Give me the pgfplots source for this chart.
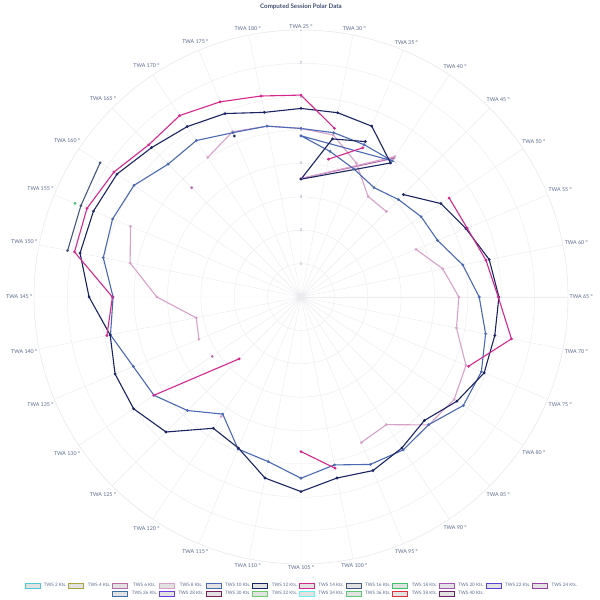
\documentclass[border=0pt]{standalone}
\usepackage{fontspec}
\setmainfont{Lato}
\usepackage{pgfplots}
\pgfplotsset{compat=1.18}
\usepgfplotslibrary{polar}

\definecolor{gridc}{HTML}{ECECF0}
\definecolor{labelc}{HTML}{5A6A8C}
\definecolor{titlec}{HTML}{3D4F73}
\definecolor{legfill}{HTML}{E2E2E2}
\definecolor{tws2}{HTML}{4CC9D6}
\definecolor{tws4}{HTML}{A9A33F}
\definecolor{tws6}{HTML}{B86AAE}
\definecolor{tws8}{HTML}{D9A0CA}
\definecolor{tws10}{HTML}{4A69B4}
\definecolor{tws12}{HTML}{1B2462}
\definecolor{tws14}{HTML}{D4288F}
\definecolor{tws16}{HTML}{46577D}
\definecolor{tws18}{HTML}{3CC46A}
\definecolor{tws20}{HTML}{A453B3}
\definecolor{tws22}{HTML}{5B3FD6}
\definecolor{tws24}{HTML}{9B3FA8}
\definecolor{tws26}{HTML}{3E6EAA}
\definecolor{tws28}{HTML}{6A3BE8}
\definecolor{tws30}{HTML}{7A1F5C}
\definecolor{tws32}{HTML}{6CCB6C}
\definecolor{tws34}{HTML}{6EF0F0}
\definecolor{tws36}{HTML}{5CC878}
\definecolor{tws38}{HTML}{E0303F}
\definecolor{tws40}{HTML}{6E1F6E}

\begin{document}
\begin{tikzpicture}
\begin{polaraxis}[
    scale only axis,
    width=534pt, height=534pt,
    ymin=0, ymax=8,
    ytick={1,2,3,4,5,6,7,8},
    yticklabels={},
    xtick={0,11.25,22.5,33.75,45,56.25,67.5,78.75,90,101.25,112.5,123.75,135,146.25,157.5,168.75,180,191.25,202.5,213.75,225,236.25,247.5,258.75,270,281.25,292.5,303.75,315,326.25,337.5,348.75},
    xticklabels={TWA 65 °,TWA 60 °,TWA 55 °,TWA 50 °,TWA 45 °,TWA 40 °,TWA 35 °,TWA 30 °,TWA 25 °,TWA 180 °,TWA 175 °,TWA 170 °,TWA 165 °,TWA 160 °,TWA 155 °,TWA 150 °,TWA 145 °,TWA 140 °,TWA 135 °,TWA 130 °,TWA 125 °,TWA 120 °,TWA 115 °,TWA 110 °,TWA 105 °,TWA 100 °,TWA 95 °,TWA 90 °,TWA 85 °,TWA 80 °,TWA 75 °,TWA 70 °},
    xticklabel style={font=\fontsize{5.3}{6}\selectfont, text=labelc, inner sep=1.5pt},
    grid=major,
    major grid style={draw=gridc, line width=0.45pt},
    axis line style={draw=gridc, line width=0.45pt},
    tick style={draw=none},
    % TWA category -> angle, TWA 25 at the top, clockwise
    x filter/.expression={mod(506.25-2.25*x,360)},
    every axis plot/.append style={line width=1.1pt, mark=*, mark size=0.75pt},
    legend columns=12,
    legend image code/.code={\draw[#1] (0pt,-2.5pt) rectangle (15pt,2.5pt);},
    legend style={at={(0.5,-0.031)}, anchor=north, draw=none, fill=none,
        font=\fontsize{4.6}{5.5}\selectfont, text=labelc,
        nodes={inner sep=0.5pt},
        row sep=2pt,
        /tikz/every even column/.append style={column sep=1.5pt},
        /tikz/every odd column/.append style={column sep=3pt}},
]
\coordinate (c) at (axis cs:0,0);
\pgfplotsinvokeforeach{1,...,8}{
  \node[font=\fontsize{4}{5}\selectfont, text=labelc!80] at (axis cs:90,#1) {#1};
}

% TWS 6
\addplot[tws6, forget plot] coordinates {(25,3.55) (40,5.00)};
\addplot[tws6, forget plot] coordinates {(130,3.20)};
\addplot[tws6, forget plot] coordinates {(165,4.63)};

% TWS 8
\addplot[tws8, forget plot] coordinates {(170,5.03) (175,5.36) (180,5.22) (25,5.05) (30,4.95) (35,4.34) (40,3.62) (45,3.62)};
\addplot[tws8, forget plot] coordinates {(55,3.73) (60,4.33) (65,4.73) (70,4.75) (75,5.35) (80,5.52) (85,5.42) (90,4.60) (95,4.72)};
\addplot[tws8, forget plot] coordinates {(155,5.53) (150,5.22) (145,4.32) (140,3.20) (135,3.31)};
\addplot[tws8, forget plot] coordinates {(25,3.55) (40,5.06)};
\addplot[tws8, forget plot] coordinates {(120,4.31)};

% TWS 10
\addplot[tws10, forget plot] coordinates {
  (25,4.83) (30,4.45) (35,4.15) (40,3.94) (45,4.13) (50,4.33) (55,4.43) (60,4.94)
  (65,5.34) (70,5.64) (75,5.85) (80,5.85) (85,5.41) (90,5.51) (95,5.43) (100,5.13)
  (105,5.43) (110,5.03) (115,4.93) (120,4.22) (125,4.81) (130,5.30) (135,5.44) (140,5.82)
  (145,5.63) (150,6.04) (155,6.11) (160,6.02) (165,5.63) (170,5.64) (175,5.33) (180,5.22)
  (25,5.05) (30,5.02) (35,4.94) (40,4.91) (25,4.83)};

% TWS 12
\addplot[tws12, forget plot] coordinates {
  (45,4.34) (50,5.04) (55,5.35) (60,5.75) (65,5.93) (70,5.92) (75,5.94) (80,5.62)
  (85,5.23) (90,5.44) (95,5.63) (100,5.53) (105,5.83) (110,5.53) (115,4.90) (120,4.73)
  (125,5.72) (130,6.03) (135,6.03) (140,5.83) (145,6.35) (150,6.75) (155,6.73) (160,6.63)
  (165,6.33) (170,6.14) (175,5.95) (180,5.64) (25,5.65) (30,5.63) (35,5.54) (40,4.83)
  (25,3.53) (30,4.83) (35,5.04)};
\addplot[tws12, forget plot] coordinates {(175,5.22)};

% TWS 14
\addplot[tws14, forget plot] coordinates {(140,5.93) (145,5.65) (150,6.92) (155,6.94) (160,6.74) (165,6.45) (170,6.54) (175,6.33) (180,6.14) (25,6.05) (30,5.15)};
\addplot[tws14, forget plot] coordinates {(30,4.21) (35,4.84)};
\addplot[tws14, forget plot] coordinates {(50,5.34) (55,5.39) (60,5.65) (65,5.91) (70,6.43) (75,5.43)};
\addplot[tws14, forget plot] coordinates {(100,5.23) (105,4.63)};
\addplot[tws14, forget plot] coordinates {(125,2.62) (130,5.30)};

% TWS 16
\addplot[tws16, forget plot] coordinates {(160,7.24) (155,7.14) (150,7.13)};

% TWS 18
\addplot[tws18, forget plot] coordinates {(155,7.33)};

\addlegendimage{draw=tws2, fill=legfill, line width=0.9pt}\addlegendentry{TWS 2 Kts.}
\addlegendimage{draw=tws4, fill=legfill, line width=0.9pt}\addlegendentry{TWS 4 Kts.}
\addlegendimage{draw=tws6, fill=legfill, line width=0.9pt}\addlegendentry{TWS 6 Kts.}
\addlegendimage{draw=tws8, fill=legfill, line width=0.9pt}\addlegendentry{TWS 8 Kts.}
\addlegendimage{draw=tws10, fill=legfill, line width=0.9pt}\addlegendentry{TWS 10 Kts.}
\addlegendimage{draw=tws12, fill=legfill, line width=0.9pt}\addlegendentry{TWS 12 Kts.}
\addlegendimage{draw=tws14, fill=legfill, line width=0.9pt}\addlegendentry{TWS 14 Kts.}
\addlegendimage{draw=tws16, fill=legfill, line width=0.9pt}\addlegendentry{TWS 16 Kts.}
\addlegendimage{draw=tws18, fill=legfill, line width=0.9pt}\addlegendentry{TWS 18 Kts.}
\addlegendimage{draw=tws20, fill=legfill, line width=0.9pt}\addlegendentry{TWS 20 Kts.}
\addlegendimage{draw=tws22, fill=legfill, line width=0.9pt}\addlegendentry{TWS 22 Kts.}
\addlegendimage{draw=tws24, fill=legfill, line width=0.9pt}\addlegendentry{TWS 24 Kts.}
\addlegendimage{empty legend}\addlegendentry{}
\addlegendimage{empty legend}\addlegendentry{}
\addlegendimage{draw=tws26, fill=legfill, line width=0.9pt}\addlegendentry{TWS 26 Kts.}
\addlegendimage{draw=tws28, fill=legfill, line width=0.9pt}\addlegendentry{TWS 28 Kts.}
\addlegendimage{draw=tws30, fill=legfill, line width=0.9pt}\addlegendentry{TWS 30 Kts.}
\addlegendimage{draw=tws32, fill=legfill, line width=0.9pt}\addlegendentry{TWS 32 Kts.}
\addlegendimage{draw=tws34, fill=legfill, line width=0.9pt}\addlegendentry{TWS 34 Kts.}
\addlegendimage{draw=tws36, fill=legfill, line width=0.9pt}\addlegendentry{TWS 36 Kts.}
\addlegendimage{draw=tws38, fill=legfill, line width=0.9pt}\addlegendentry{TWS 38 Kts.}
\addlegendimage{draw=tws40, fill=legfill, line width=0.9pt}\addlegendentry{TWS 40 Kts.}
\end{polaraxis}
\node[font=\bfseries\fontsize{6.2}{7}\selectfont, text=titlec] at ([yshift=290pt]c) {Computed Session Polar Data};
\pgfresetboundingbox
\path ([shift={(-301pt,-303pt)}]c) rectangle ([shift={(299pt,297pt)}]c);
\end{tikzpicture}
\end{document}
